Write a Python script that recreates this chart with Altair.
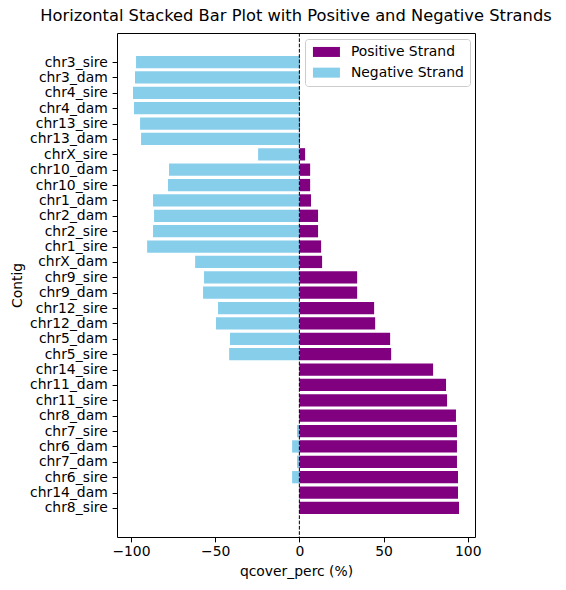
import altair as alt
import pandas as pd
import json

contigs = ["chr3_sire", "chr3_dam", "chr4_sire", "chr4_dam", "chr13_sire", "chr13_dam",
           "chrX_sire", "chr10_dam", "chr10_sire", "chr1_dam", "chr2_dam", "chr2_sire",
           "chr1_sire", "chrX_dam", "chr9_sire", "chr9_dam", "chr12_sire", "chr12_dam",
           "chr5_dam", "chr5_sire", "chr14_sire", "chr11_dam", "chr11_sire", "chr8_dam",
           "chr7_sire", "chr6_dam", "chr7_dam", "chr6_sire", "chr14_dam", "chr8_sire"]
positive = [0.2, 0.2, 0.2, 0.2, 0.4, 0.4, 3.4, 6.4, 6.4, 6.9, 11.1, 11.1, 12.9, 13.5,
            34.3, 34.3, 44.4, 45.0, 53.9, 54.5, 79.4, 87.1, 87.7, 93.0, 93.6, 93.6,
            93.6, 94.2, 94.2, 94.8]
negative = [-97.0, -97.6, -98.8, -98.2, -94.6, -94.0, -24.5, -77.4, -78.0, -86.9, -86.3,
            -86.9, -90.4, -61.9, -56.6, -57.2, -48.3, -49.5, -41.2, -41.7, 0.0, 0.0, 0.0,
            0.0, -1.4, -4.3, -1.4, -4.3, 0.0, 0.0]
strand_labels = ["Positive Strand", "Negative Strand"]
strand_colors = ["purple", "skyblue"]
x_ticks = [-100, -50, 0, 50, 100]
zero_line = [0]

rows = []
for i, (c, p, n) in enumerate(zip(contigs, positive, negative)):
    rows.append({"Contig": c, "idx": i, "Strand": strand_labels[0], "value": p})
    rows.append({"Contig": c, "idx": i, "Strand": strand_labels[1], "value": n})
df = pd.DataFrame(rows)

FONT = "DejaVu Sans"
FS = 13.9
BAR_HALF = 0.4

xscale = alt.Scale(domain=[-108.3, 104.3], nice=False, zero=False)
n = len(contigs)
yscale = alt.Scale(domain=[-0.4 - 0.05 * (n - 0.2), n - 0.6 + 0.05 * (n - 0.2)],
                   nice=False, zero=False, reverse=True)
label_expr = json.dumps(contigs) + "[datum.value]"

bars = alt.Chart(df).transform_calculate(
    y0=f"datum.idx - {BAR_HALF}", y1=f"datum.idx + {BAR_HALF}"
).mark_bar().encode(
    y=alt.Y("y0:Q", scale=yscale,
            axis=alt.Axis(title="Contig", titleX=-93, titleY=252,
                          values=list(range(n)), labelExpr=label_expr,
                          labelPadding=4.9)),
    y2="y1:Q",
    x=alt.X("value:Q", stack=None, scale=xscale,
            axis=alt.Axis(values=x_ticks, title="qcover_perc (%)",
                          labelExpr="replace(datum.label, '-', '\u2212')",
                          labelPadding=3, titlePadding=6)),
    x2=alt.datum(0),
    color=alt.Color("Strand:N",
                    scale=alt.Scale(domain=strand_labels, range=strand_colors),
                    legend=alt.Legend(title=None, orient="none", legendX=188, legendY=6,
                                      fillColor="white", strokeColor="#cccccc",
                                      cornerRadius=3, padding=6,
                                      symbolType="M-1,-1 L4.4,-1 L4.4,1 L-1,1 Z",
                                      symbolSize=100, symbolStrokeWidth=0,
                                      symbolOpacity=1, labelOffset=26,
                                      labelFont=FONT, labelFontSize=FS,
                                      labelColor="black", rowPadding=5.7)),
)

rule = alt.Chart(pd.DataFrame({"x": zero_line})).mark_rule(
    color="black", strokeDash=[3.7, 1.6], strokeWidth=1
).encode(x=alt.X("x:Q", scale=xscale))

chart = alt.layer(bars, rule).properties(
    width=358, height=504,
    title=alt.TitleParams("Horizontal Stacked Bar Plot with Positive and Negative Strands",
                          font=FONT, fontSize=16.3, fontWeight="normal", color="black",
                          anchor="middle", offset=8),
    autosize=alt.AutoSizeParams(type="none"),
    padding={"left": 109, "top": 25, "right": 82, "bottom": 45},
).configure_view(stroke="black", strokeWidth=1).configure_axis(
    domain=False, grid=False, tickColor="black", tickSize=4.9, tickWidth=1,
    labelFont=FONT, labelFontSize=FS, labelColor="black",
    titleFont=FONT, titleFontSize=FS, titleFontWeight="normal", titleColor="black",
)

chart.save("out.html", embed_options={"renderer": "svg", "actions": False})
